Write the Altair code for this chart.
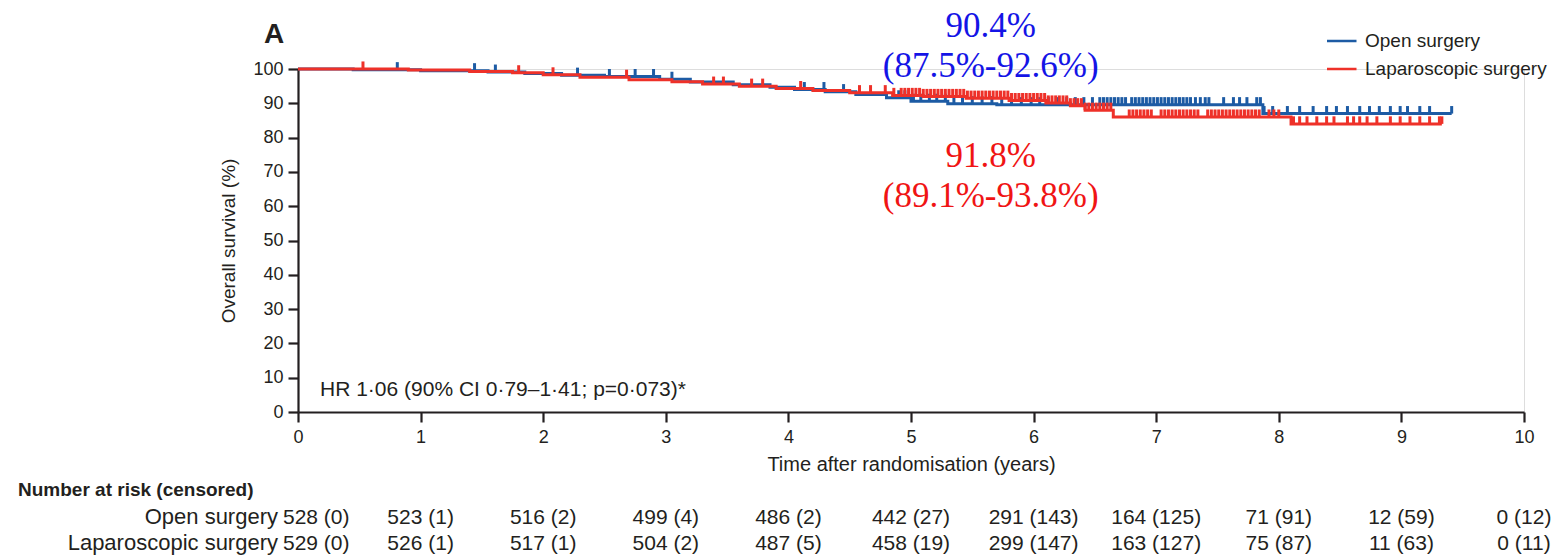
import bisect
import altair as alt
import pandas as pd

# ---------------- data ----------------
groups = ["Open surgery", "Laparoscopic surgery"]

open_t = [0, 0.45, 1.0, 1.55, 1.85, 2.15, 2.5, 2.95, 3.2, 3.55, 3.85, 4.05, 4.3, 4.55, 4.8, 5.0, 5.3, 5.7, 7.87, 9.41]
open_s = [100, 99.8, 99.5, 99.1, 98.7, 98.2, 97.8, 97.0, 96.2, 95.4, 94.7, 94.0, 93.4, 92.6, 91.6, 90.6, 89.9, 89.6, 87.0, 87.0]

lap_t = [0, 0.9, 1.4, 1.75, 2.0, 2.3, 2.7, 3.05, 3.3, 3.6, 3.9, 4.2, 4.5, 4.85, 5.1, 5.45, 5.8, 6.1, 6.3, 6.42, 6.65, 8.1, 9.33]
lap_s = [100, 99.7, 99.3, 98.9, 98.3, 97.6, 96.9, 96.3, 95.6, 95.0, 94.3, 93.7, 93.1, 92.3, 92.0, 91.5, 90.8, 90.1, 89.3, 88.0, 86.0, 84.0, 84.0]

open_cens = [0.81, 1.44, 1.61, 2.28, 2.54, 2.75, 2.9, 3.05, 4.13, 4.29, 4.45, 4.9, 4.95, 5.02,
             5.08, 5.15, 5.21, 5.28, 5.35, 5.42, 5.5, 5.58, 5.66, 5.74, 5.82, 5.9, 5.98, 6.05,
             6.12, 6.2, 6.27, 6.34, 6.41, 6.48, 6.54, 6.57, 6.6, 6.63, 6.66, 6.69, 6.72, 6.75,
             6.8, 6.83, 6.86, 6.89, 6.92, 6.95, 6.98, 7.01, 7.04, 7.07, 7.1, 7.13, 7.16, 7.19,
             7.22, 7.25, 7.28, 7.32, 7.36, 7.4, 7.43, 7.55, 7.63, 7.68, 7.74, 7.82, 7.85, 7.88,
             7.95, 8.07, 8.17, 8.28, 8.39, 8.47, 8.56, 8.66, 8.74, 8.82, 8.91, 8.99, 9.05, 9.15,
             9.23, 9.41]
lap_cens = [0.53, 1.8, 2.08, 2.68, 3.39, 3.47, 3.7, 3.79, 4.1, 4.58, 4.67, 4.79, 4.86, 4.92,
            4.95, 4.98, 5.01, 5.04, 5.07, 5.1, 5.13, 5.16, 5.19, 5.22, 5.25, 5.28, 5.31, 5.34,
            5.37, 5.4, 5.43, 5.46, 5.49, 5.52, 5.55, 5.58, 5.61, 5.64, 5.67, 5.7, 5.73, 5.76,
            5.79, 5.82, 5.85, 5.88, 5.91, 5.94, 5.97, 6.0, 6.03, 6.06, 6.09, 6.12, 6.15, 6.18,
            6.21, 6.24, 6.27, 6.3, 6.33, 6.36, 6.39, 6.42, 6.45, 6.48, 6.51, 6.54, 6.57, 6.6,
            6.63, 6.78, 6.81, 6.84, 6.87, 6.9, 6.93, 6.96, 7.04, 7.07, 7.1, 7.13, 7.16, 7.19,
            7.22, 7.25, 7.28, 7.31, 7.34, 7.42, 7.45, 7.48, 7.51, 7.54, 7.57, 7.6, 7.63, 7.66,
            7.69, 7.72, 7.75, 7.78, 7.81, 7.84, 7.92, 7.96, 8.0, 8.12, 8.17, 8.23, 8.31, 8.39,
            8.45, 8.56, 8.61, 8.66, 8.72, 8.8, 8.91, 8.99, 9.07, 9.15, 9.23, 9.31, 9.33]

risk_times = [0, 1, 2, 3, 4, 5, 6, 7, 8, 9, 10]
y_ticks = [0, 10, 20, 30, 40, 50, 60, 70, 80, 90, 100]
open_risk = ["528 (0)", "523 (1)", "516 (2)", "499 (4)", "486 (2)", "442 (27)", "291 (143)",
             "164 (125)", "71 (91)", "12 (59)", "0 (12)"]
lap_risk = ["529 (0)", "526 (1)", "517 (1)", "504 (2)", "487 (5)", "458 (19)", "299 (147)",
            "163 (127)", "75 (87)", "11 (63)", "0 (11)"]

ann_open = ["90.4%", "(87.5%-92.6%)"]
ann_lap = ["91.8%", "(89.1%-93.8%)"]
ann_x = 5.65
ann_open_y = [109.2, 97.7]
ann_lap_y = [71.4, 59.8]

hr_text = "HR 1·06 (90% CI 0·79–1·41; p=0·073)*"

BLUE = "#1d5ba4"
RED = "#ee3129"
INK = "#231f20"
FONT = "Liberation Sans"

# ---------------- tables ----------------
def step_value(ts, ss, t):
    i = bisect.bisect_right(ts, t) - 1
    return ss[max(i, 0)]

curve = pd.DataFrame(
    [{"t": t, "s": s, "group": groups[0]} for t, s in zip(open_t, open_s)]
    + [{"t": t, "s": s, "group": groups[1]} for t, s in zip(lap_t, lap_s)]
)
cens_open = pd.DataFrame({"t": open_cens, "s": [step_value(open_t, open_s, t) for t in open_cens]})
cens_open["s2"] = cens_open["s"] + 2.2
cens_lap = pd.DataFrame({"t": lap_cens, "s": [step_value(lap_t, lap_s, t) for t in lap_cens]})
cens_lap["s2"] = cens_lap["s"] + 2.2

risk = pd.DataFrame({"t": risk_times, "open": open_risk, "lap": lap_risk})

ann = pd.DataFrame({
    "t": [ann_x] * 4,
    "s": ann_open_y + ann_lap_y,
    "label": ann_open + ann_lap,
    "grp": ["o", "o", "l", "l"],
})

xscale = alt.Scale(domain=[0, 10], nice=False)
yscale = alt.Scale(domain=[0, 100], nice=False)

color = alt.Color(
    "group:N",
    scale=alt.Scale(domain=groups, range=[BLUE, RED]),
    legend=alt.Legend(
        title=None, orient="none", legendX=1029, legendY=-39,
        symbolType="M-1.8,0H1.8", symbolSize=400, symbolStrokeWidth=2.5,
        labelFont=FONT, labelFontSize=19, labelColor=INK, labelOffset=15,
        rowPadding=6, clipHeight=22, labelLimit=400,
    ),
)

x_axis = alt.Axis(
    title="Time after randomisation (years)", values=risk_times, tickCount=20, format="d",
    grid=False, domainColor=INK, domainWidth=2.2, tickColor=INK, tickWidth=2.2,
    tickSize=10, labelFont=FONT, labelFontSize=18, labelColor=INK, labelPadding=6,
    labelFlush=False, labelOverlap=False,
    titleFont=FONT, titleFontSize=20, titleFontWeight="normal", titleColor=INK,
    titlePadding=8,
)
y_axis = alt.Axis(
    title="Overall survival  (%)", values=y_ticks, tickCount=20, format="d", grid=False,
    domainColor=INK, domainWidth=2.2, tickColor=INK, tickWidth=2.2, tickSize=10,
    labelFont=FONT, labelFontSize=18, labelColor=INK, labelPadding=5,
    labelFlush=False, labelOverlap=False,
    titleFont=FONT, titleFontSize=19, titleFontWeight="normal", titleColor=INK,
    titlePadding=14,
)
X = alt.X("t:Q", scale=xscale, axis=x_axis)
Y = alt.Y("s:Q", scale=yscale, axis=y_axis)

line_open = alt.Chart(curve).transform_filter(alt.datum.group == groups[0]).mark_line(
    interpolate="step-after", strokeWidth=3
).encode(x=X, y=Y, color=color)

line_lap = alt.Chart(curve).transform_filter(alt.datum.group == groups[1]).mark_line(
    interpolate="step-after", strokeWidth=3
).encode(x=X, y=Y, color=color)

ticks_open = alt.Chart(cens_open).mark_rule(strokeWidth=3, color=BLUE).encode(
    x=X, y=Y, y2="s2:Q"
)
ticks_lap = alt.Chart(cens_lap).mark_rule(strokeWidth=3, color=RED).encode(
    x=X, y=Y, y2="s2:Q"
)

ann_layer_o = alt.Chart(ann).transform_filter(alt.datum.grp == "o").mark_text(
    font="Liberation Serif", fontSize=35, color="#1414e6", align="center", baseline="alphabetic"
).encode(x=X, y=Y, text="label:N")
ann_layer_l = alt.Chart(ann).transform_filter(alt.datum.grp == "l").mark_text(
    font="Liberation Serif", fontSize=35, color="#f01414", align="center", baseline="alphabetic"
).encode(x=X, y=Y, text="label:N")

hr = alt.Chart(pd.DataFrame({"txt": [hr_text]})).mark_text(
    font=FONT, fontSize=21, color=INK, align="left", baseline="alphabetic"
).encode(x=alt.value(22), y=alt.value(327), text="txt:N")

panel = alt.Chart(pd.DataFrame({"txt": ["A"]})).mark_text(
    font=FONT, fontSize=28, fontWeight="bold", color=INK, align="left", baseline="alphabetic"
).encode(x=alt.value(-34), y=alt.value(-26), text="txt:N")

hdr = alt.Chart(pd.DataFrame({"txt": ["Number at risk (censored)"]})).mark_text(
    font=FONT, fontSize=19, fontWeight="bold", color=INK, align="left", baseline="alphabetic"
).encode(x=alt.value(-280), y=alt.value(427), text="txt:N")

row_labels = alt.Chart(pd.DataFrame({"txt": groups, "row": [0, 1]}))
rl_open = row_labels.transform_filter(alt.datum.row == 0).mark_text(
    font=FONT, fontSize=22, color=INK, align="right", baseline="alphabetic"
).encode(x=alt.value(-20), y=alt.value(455), text="txt:N")
rl_lap = row_labels.transform_filter(alt.datum.row == 1).mark_text(
    font=FONT, fontSize=22, color=INK, align="right", baseline="alphabetic"
).encode(x=alt.value(-20), y=alt.value(481), text="txt:N")

def risk_layers(field, ypix):
    first = alt.Chart(risk).transform_filter(alt.datum.t == 0).mark_text(
        font=FONT, fontSize=21, color=INK, align="left", baseline="alphabetic", dx=-15
    ).encode(x=X, y=alt.value(ypix), text=f"{field}:N")
    rest = alt.Chart(risk).transform_filter(alt.datum.t > 0).mark_text(
        font=FONT, fontSize=21, color=INK, align="center", baseline="alphabetic"
    ).encode(x=X, y=alt.value(ypix), text=f"{field}:N")
    return [first, rest]

layers = [line_open, ticks_open, line_lap, ticks_lap, ann_layer_o, ann_layer_l, hr, panel, hdr,
          rl_open, rl_lap] + risk_layers("open", 455) + risk_layers("lap", 481)

chart = alt.layer(*layers).properties(
    width=1226, height=343,
    padding={"left": 298, "top": 69, "right": 29, "bottom": 143},
    autosize=alt.AutoSizeParams(type="none"),
).configure_view(stroke=None).configure(background="white")

chart.save("out.html", embed_options={"renderer": "svg", "actions": False})
